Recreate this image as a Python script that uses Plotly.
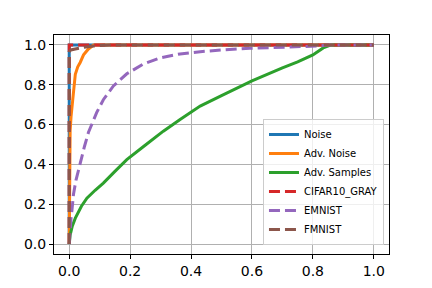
import plotly.graph_objects as go

# ROC-style curves
noise_x = [0.0, 0.0, 1.0]
noise_y = [0.0, 1.0, 1.0]

adv_noise_x = [0.0, 0.001, 0.003, 0.006, 0.009, 0.014, 0.02, 0.028, 0.036, 0.047, 0.063, 0.08, 1.0]
adv_noise_y = [0.0, 0.30, 0.57, 0.64, 0.69, 0.78, 0.853, 0.89, 0.912, 0.95, 0.98, 1.0, 1.0]

adv_samples_x = [0.0, 0.003, 0.01, 0.02, 0.04, 0.058, 0.085, 0.112, 0.15, 0.189, 0.244, 0.266,
                 0.309, 0.364, 0.43, 0.5, 0.6, 0.7, 0.75, 0.8, 0.834, 0.86, 1.0]
adv_samples_y = [0.0, 0.045, 0.09, 0.13, 0.19, 0.23, 0.27, 0.306, 0.365, 0.424, 0.49, 0.517,
                 0.567, 0.626, 0.693, 0.745, 0.82, 0.885, 0.915, 0.95, 0.985, 1.0, 1.0]

cifar_x = [0.0, 0.0, 1.0]
cifar_y = [0.0, 1.0, 1.0]

emnist_x = [0.0, 0.001, 0.003, 0.006, 0.009, 0.014, 0.022, 0.03, 0.04, 0.05, 0.063, 0.078, 0.09,
            0.112, 0.145, 0.189, 0.244, 0.298, 0.364, 0.43, 0.5, 0.593, 0.7, 0.82, 0.85, 1.0]
emnist_y = [0.0, 0.03, 0.09, 0.13, 0.17, 0.25, 0.32, 0.37, 0.43, 0.49, 0.56, 0.62, 0.66,
            0.725, 0.794, 0.855, 0.905, 0.935, 0.955, 0.966, 0.975, 0.983, 0.988, 0.995, 1.0, 1.0]

fmnist_x = [0.0, 0.0, 0.005, 0.02, 0.047, 0.08, 0.134, 1.0]
fmnist_y = [0.0, 0.965, 0.975, 0.98, 0.988, 0.995, 1.0, 1.0]

series = [
    ("Noise", noise_x, noise_y, "#1f77b4", "solid"),
    ("Adv. Noise", adv_noise_x, adv_noise_y, "#ff7f0e", "solid"),
    ("Adv. Samples", adv_samples_x, adv_samples_y, "#2ca02c", "solid"),
    ("CIFAR10_GRAY", cifar_x, cifar_y, "#d62728", "11px,5px"),
    ("EMNIST", emnist_x, emnist_y, "#9467bd", "11px,5px"),
    ("FMNIST", fmnist_x, fmnist_y, "#8c564b", "11px,5px"),
]

fig = go.Figure()
for name, xs, ys, color, dash in series:
    fig.add_trace(go.Scatter(x=xs, y=ys, mode="lines", name=name,
                             line=dict(color=color, width=3, dash=dash)))

tick_vals = [0.0, 0.2, 0.4, 0.6, 0.8, 1.0]
tick_text = ["0.0", "0.2", "0.4", "0.6", "0.8", "1.0"]

axis_common = dict(
    tickvals=tick_vals, ticktext=tick_text, automargin=False,
    showgrid=True, gridcolor="#b0b0b0", gridwidth=0.8,
    zeroline=False, showline=True, linecolor="black", linewidth=1, mirror=True,
    ticks="outside", ticklen=4, tickwidth=0.8, tickcolor="black",
    tickfont=dict(family="DejaVu Sans", size=14, color="black"),
)

fig.update_xaxes(range=[-0.05, 1.05], **axis_common)
fig.update_yaxes(range=[-0.05, 1.05], **axis_common)

fig.update_layout(
    width=432, height=288,
    margin=dict(l=54, r=43, t=35, b=34, pad=0),
    plot_bgcolor="white", paper_bgcolor="white",
    legend=dict(x=0.985, y=0.041, xanchor="right", yanchor="bottom",
                bgcolor="rgba(255,255,255,0.8)", bordercolor="#cccccc", borderwidth=1,
                font=dict(family="DejaVu Sans", size=10, color="black")),
)

fig.write_html("out.html", config={"displayModeBar": False},
               post_script="document.body.style.margin='0';")
